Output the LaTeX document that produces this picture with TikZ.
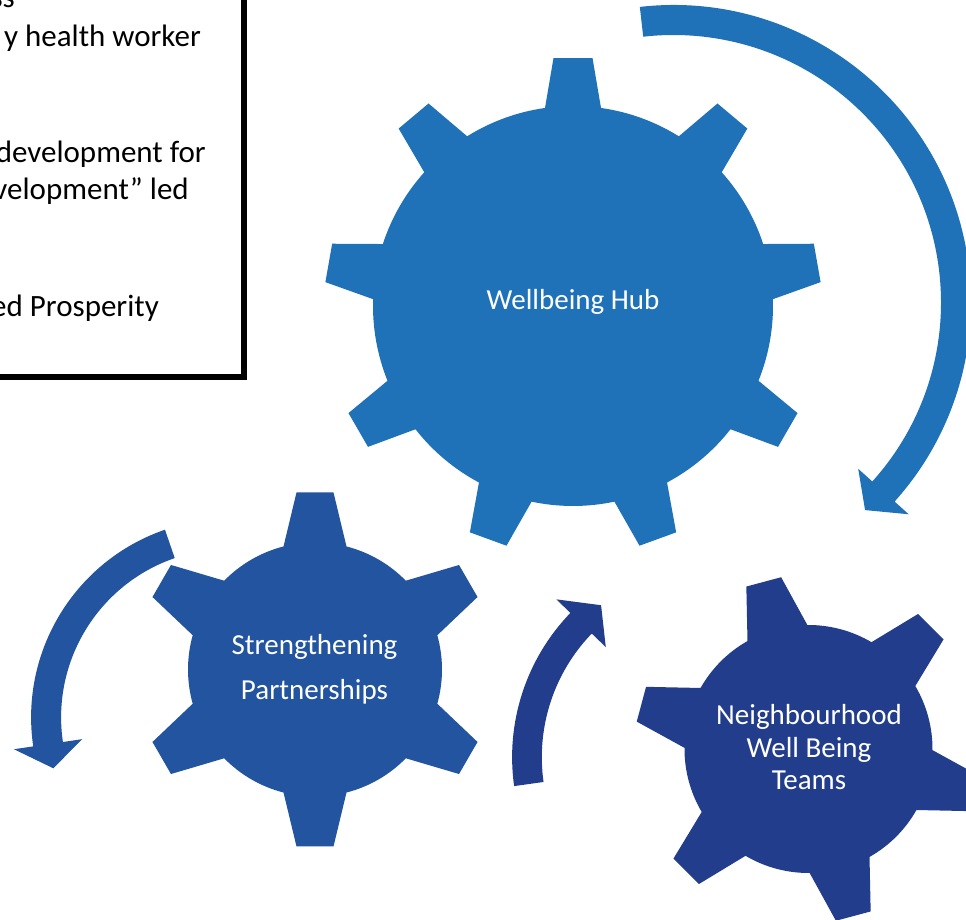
\documentclass[tikz,border=0pt]{standalone}
\usepackage{fontspec}
\setmainfont{Carlito}
\definecolor{gearA}{RGB}{31,114,184}
\definecolor{gearB}{RGB}{34,84,160}
\definecolor{gearC}{RGB}{34,61,140}
% gear: #1 colour, #2 cx, #3 cy, #4 body radius, #5 teeth, #6 first tooth angle,
%       #7 base half-width, #8 tip distance, #9 tip half-width
\newcommand\mygear[9]{%
  \pgfmathsetmacro\gdb{asin(#7/#4)}%
  \pgfmathsetmacro\gdt{atan(#9/#8)}%
  \pgfmathsetmacro\grt{veclen(#8,#9)}%
  \pgfmathsetmacro\gsp{360/#5}%
  \pgfmathsetmacro\gst{#6-\gdb}%
  \fill[#1, shift={(#2,#3)}] (\gst:#4)
    \foreach \k [evaluate=\k as \ta using {#6+(\k-1)*\gsp-\gdt},
                 evaluate=\k as \tb using {#6+(\k-1)*\gsp+\gdt},
                 evaluate=\k as \sa using {#6+(\k-1)*\gsp+\gdb},
                 evaluate=\k as \ea using {#6+\k*\gsp-\gdb}] in {1,...,#5} {
      -- (\ta:\grt) -- (\tb:\grt) -- (\sa:#4)
      arc[start angle=\sa, end angle=\ea, radius=#4] } -- cycle;
}
% arrow: #1 colour, #2 cx, #3 cy, #4 r inner, #5 r outer, #6 tail angle,
%        #7 head base angle, #8 tip angle, #9 barb overhang
\newcommand\myarrow[9]{%
  \pgfmathsetmacro\rmid{(#4+#5)/2}%
  \pgfmathsetmacro\rbo{#5+#9}%
  \pgfmathsetmacro\rbi{#4-#9}%
  \fill[#1, shift={(#2,#3)}] (#6:#5) arc[start angle=#6, end angle=#7, radius=#5]
    -- (#7:\rbo) -- (#8:\rmid) -- (#7:\rbi) -- (#7:#4)
    arc[start angle=#7, end angle=#6, radius=#4] -- cycle;
}
\begin{document}
\begin{tikzpicture}[x=1pt,y=1pt,
  boxtext/.style={anchor=base east, inner sep=0pt, font=\fontsize{31}{37}\selectfont, text=black},
  gearlabel/.style={anchor=base, inner sep=0pt, font=\fontsize{29}{33}\selectfont, text=white},
  boxframe/.style={draw=black, line width=6pt, fill=white}]
\useasboundingbox (0,0) rectangle (966,920);
\clip (0,0) rectangle (966,920);
\fill[white] (0,0) rectangle (966,920);

% text box (clipped at the left and top)
\draw[boxframe] (-30,543) rectangle (244,950);
\node[boxtext] (t1) at (15,912) {ss};
\node[boxtext] (t2) at (201,873) {y health worker};
\node[boxtext] (t3) at (206,757) {development for};
\node[boxtext] (t4) at (189,720) {velopment” led};
\node[boxtext] (t5) at (159,603) {ed Prosperity};

% gears
\mygear{gearA}{573}{614}{200}{9}{10}{28}{248}{19.5}
\mygear{gearB}{315}{250.5}{127}{6}{30}{31.5}{177}{18.5}
\mygear{gearC}{808.5}{171}{124}{6}{45}{31}{173}{18}

% circular arrows
\myarrow{gearA}{673.5}{617.5}{267.5}{297.5}{96.5}{-42}{-47.3}{19}
\myarrow{gearB}{229.6}{202.6}{168.5}{198.5}{109}{188.4}{196.1}{19.5}
\myarrow{gearC}{719.8}{162.8}{178}{207.7}{188}{136}{128}{19.5}

% labels
\node[gearlabel] (hub) at (573,610) {Wellbeing Hub};
\node[gearlabel] (sp1) at (314.5,265) {Strengthening};
\node[gearlabel] (sp2) at (314.5,220) {Partnerships};
\node[gearlabel] (nb1) at (809,195) {Neighbourhood};
\node[gearlabel] (nb2) at (809,162) {Well Being};
\node[gearlabel] (nb3) at (809,130) {Teams};
\end{tikzpicture}
\end{document}
